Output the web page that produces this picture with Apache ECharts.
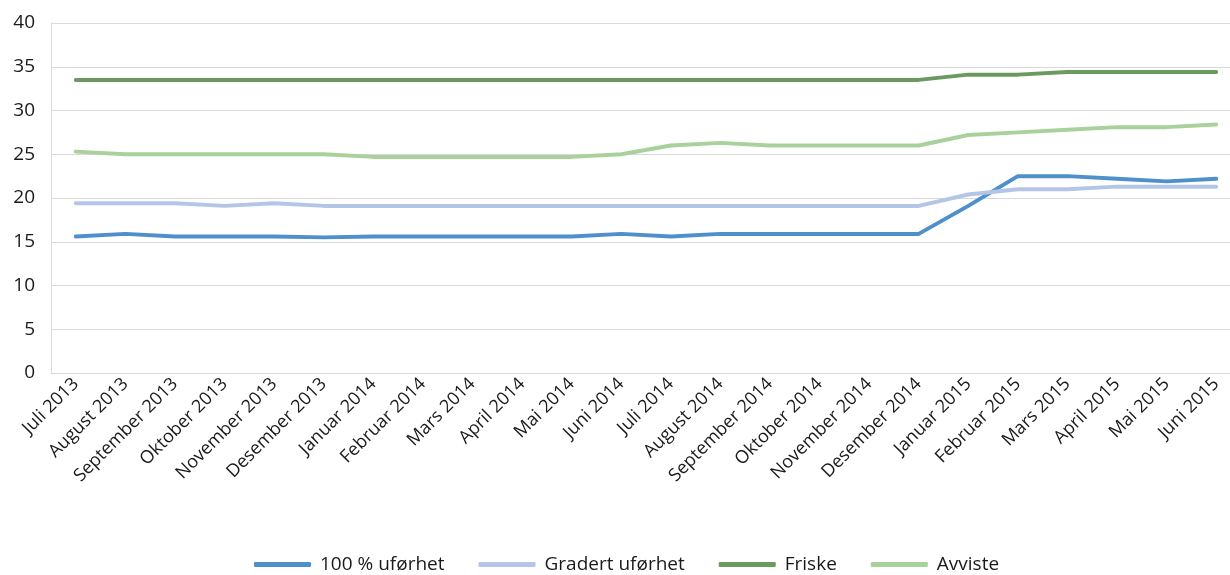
<!DOCTYPE html>
<html>
<head>
<meta charset="utf-8">
<script src="https://cdn.jsdelivr.net/npm/echarts@6/dist/echarts.min.js"></script>
<style>
html,body{margin:0;padding:0;background:#fff;}
#chart{width:1230px;height:575px;}
</style>
</head>
<body>
<div id="chart"></div>
<script>
const categories = ["Juli 2013","August 2013","September 2013","Oktober 2013","November 2013","Desember 2013","Januar 2014","Februar 2014","Mars 2014","April 2014","Mai 2014","Juni 2014","Juli 2014","August 2014","September 2014","Oktober 2014","November 2014","Desember 2014","Januar 2015","Februar 2015","Mars 2015","April 2015","Mai 2015","Juni 2015"];
const full = [15.6,15.9,15.6,15.6,15.6,15.5,15.6,15.6,15.6,15.6,15.6,15.9,15.6,15.9,15.9,15.9,15.9,15.9,19.1,22.5,22.5,22.2,21.9,22.2];
const graded = [19.4,19.4,19.4,19.1,19.4,19.1,19.1,19.1,19.1,19.1,19.1,19.1,19.1,19.1,19.1,19.1,19.1,19.1,20.4,21.0,21.0,21.3,21.3,21.3];
const healthy = [33.5,33.5,33.5,33.5,33.5,33.5,33.5,33.5,33.5,33.5,33.5,33.5,33.5,33.5,33.5,33.5,33.5,33.5,34.1,34.1,34.4,34.4,34.4,34.4];
const rejected = [25.3,25.0,25.0,25.0,25.0,25.0,24.7,24.7,24.7,24.7,24.7,25.0,26.0,26.3,26.0,26.0,26.0,26.0,27.2,27.5,27.8,28.1,28.1,28.4];
const yTicks = {min:0, max:40, interval:5};
const seriesNames = ["100 % uførhet","Gradert uførhet","Friske","Avviste"];
const colors = ["#4f8fcc","#b4c6e7","#6a9a60","#a9d19b"];

const font = "'Open Sans', 'Noto Sans', sans-serif";
const chart = echarts.init(document.getElementById('chart'));
const data = [full, graded, healthy, rejected];
chart.setOption({
  animation:false,
  color: colors,
  grid:{left:51, top:23, width:1190, height:350, containLabel:false, outerBoundsMode:'none'},
  legend:{
    top:555, left:254, padding:0,
    itemWidth:57, itemHeight:5, itemGap:34,
    icon:'roundRect',
    textStyle:{fontFamily:font, fontSize:19, color:'#1a1a1a', padding:[0,0,0,4]},
    data: seriesNames.map((n,i)=>({name:n, itemStyle:{color:colors[i]}}))
  },
  xAxis:{
    type:'category', data:categories, boundaryGap:true,
    axisLine:{lineStyle:{color:'#d9d9d9', width:1}},
    axisTick:{show:false},
    axisLabel:{rotate:45, interval:0, fontFamily:font, fontSize:18, color:'#1a1a1a', margin:8}
  },
  yAxis:{
    type:'value', min:yTicks.min, max:yTicks.max, interval:yTicks.interval,
    axisLine:{show:true, lineStyle:{color:'#d9d9d9', width:1}},
    axisTick:{show:false},
    splitLine:{lineStyle:{color:'#d9d9d9', width:1}},
    axisLabel:{fontFamily:font, fontSize:19, color:'#1a1a1a', margin:16}
  },
  series: seriesNames.map((n,i)=>({
    name:n, type:'line', data:data[i], symbol:'none',
    lineStyle:{width:4, color:colors[i], cap:'round', join:'round'},
    itemStyle:{color:colors[i]}
  }))
});
</script>
</body>
</html>
